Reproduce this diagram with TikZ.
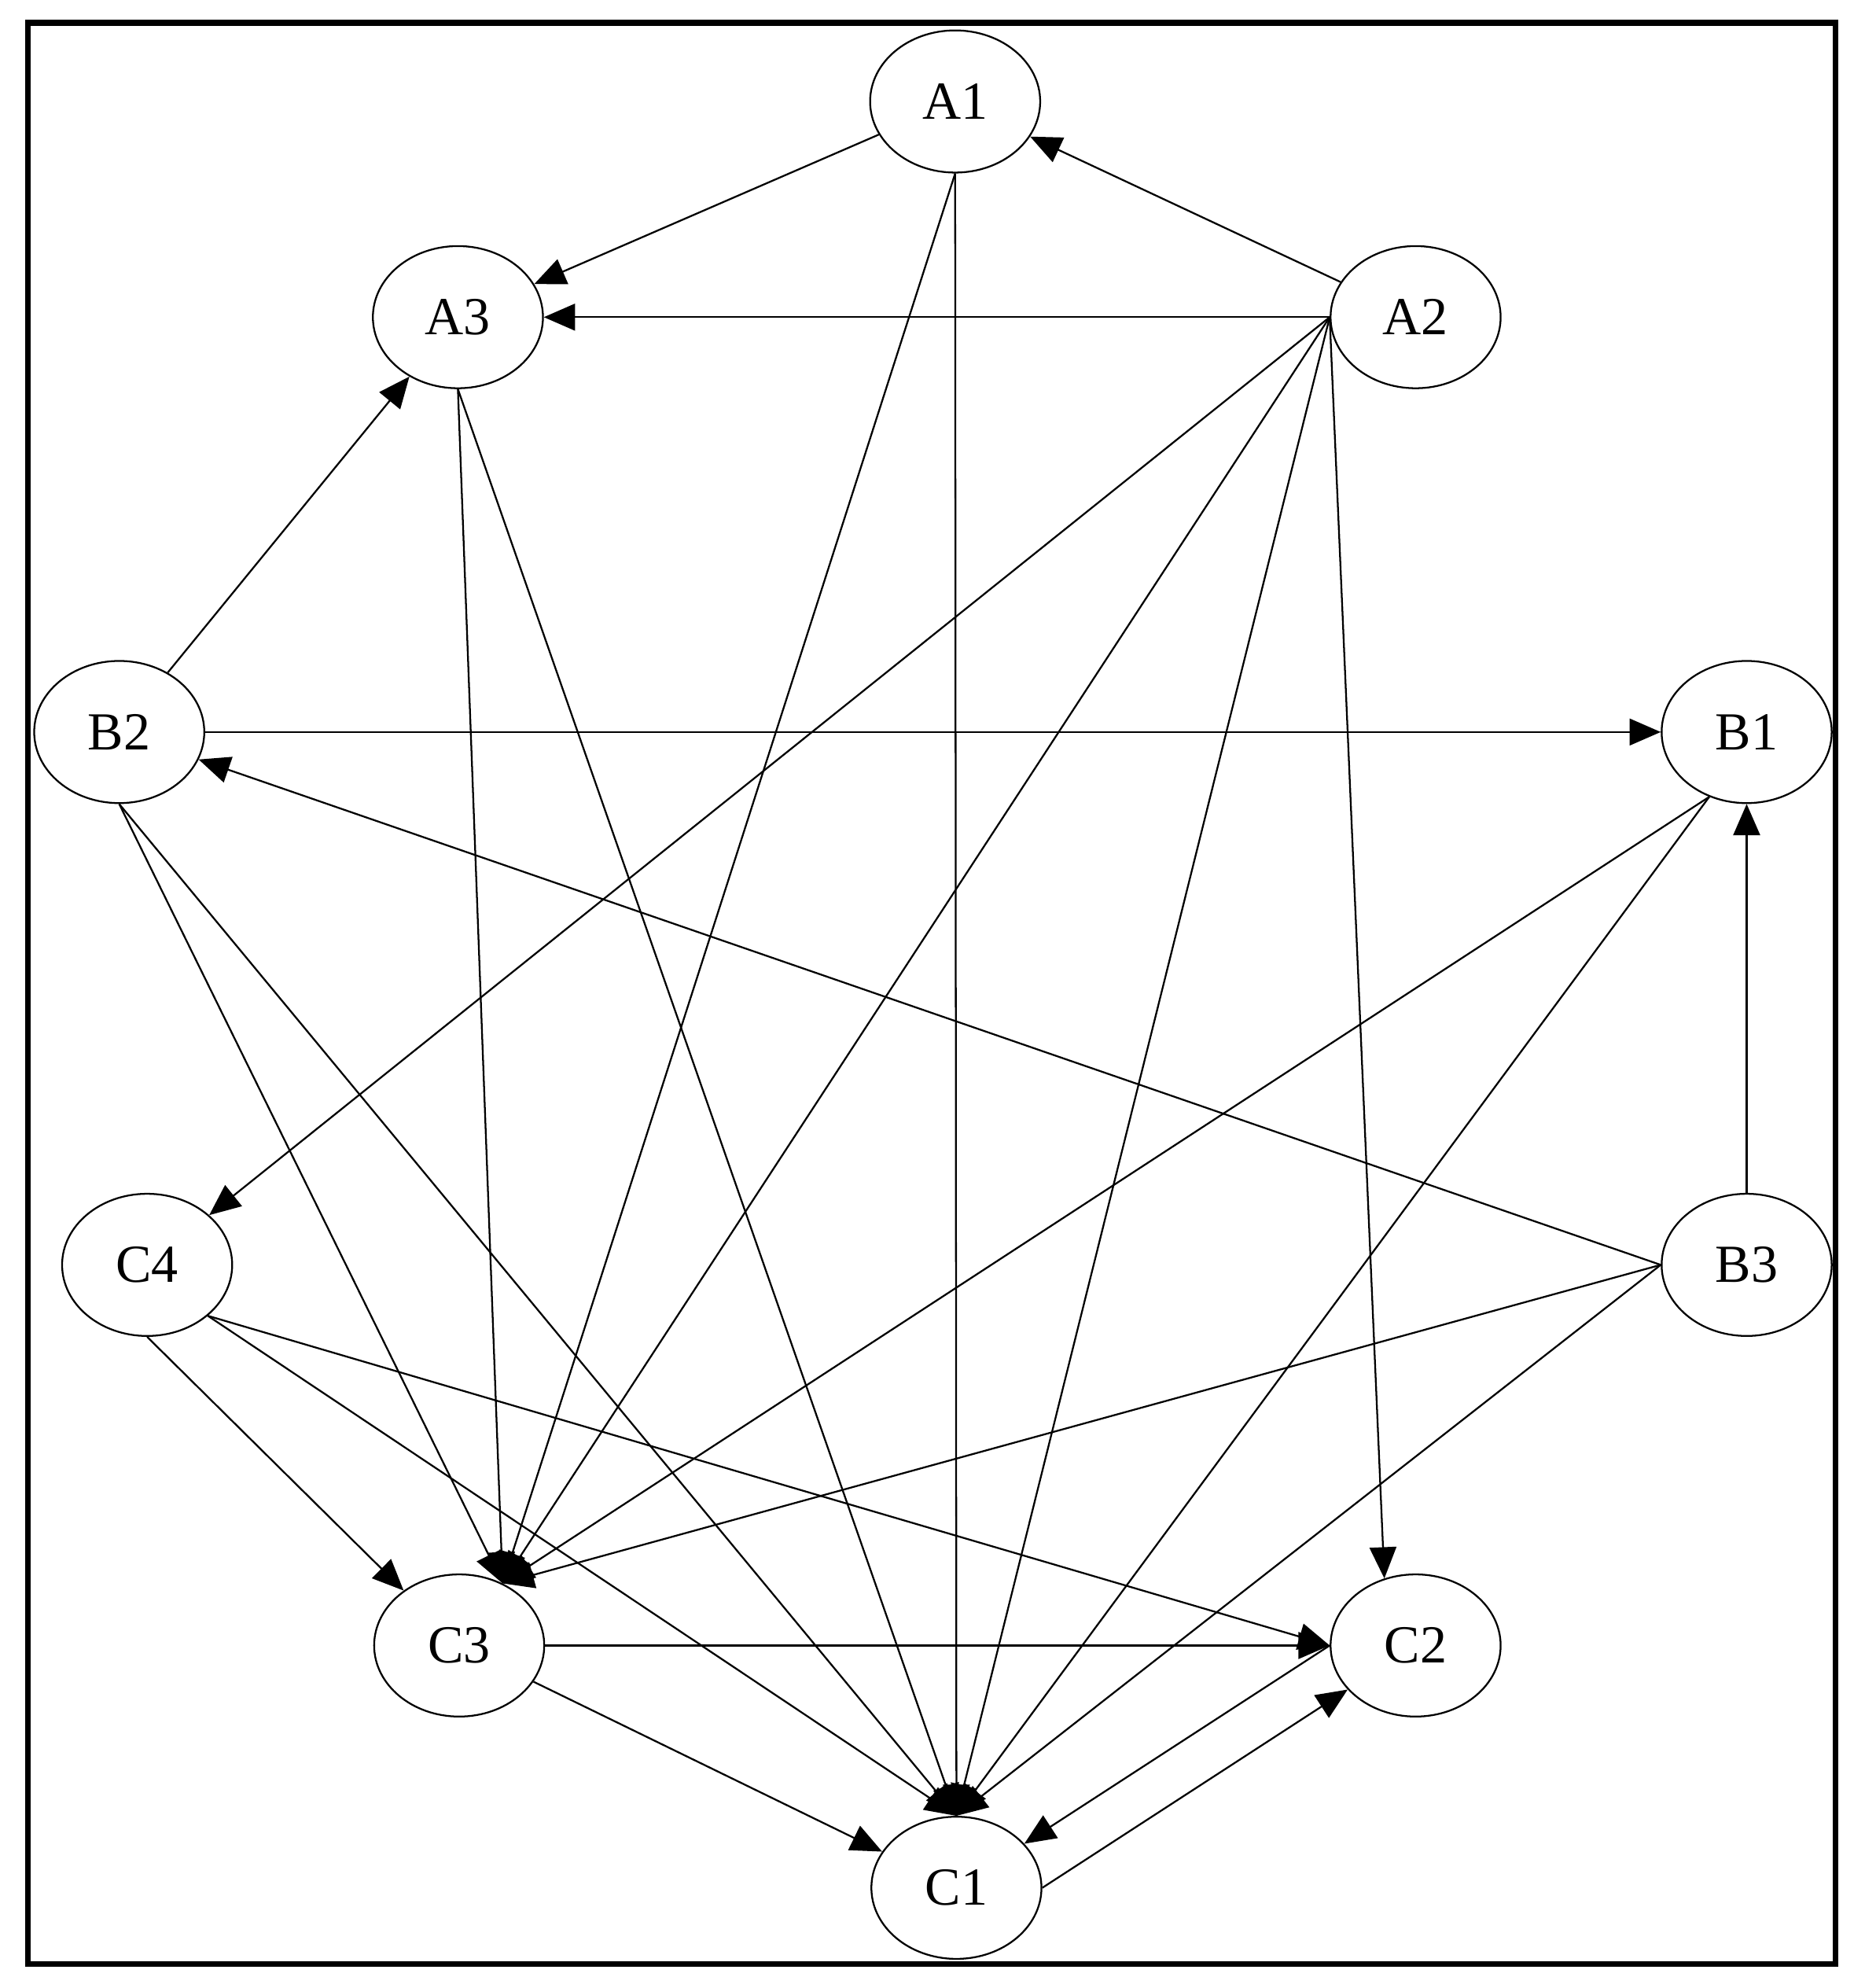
\documentclass[tikz,border=0pt]{standalone}
\usepackage{fontspec}
\setmainfont{Liberation Serif}
\usetikzlibrary{arrows.meta,shapes.geometric}

\begin{document}
\begin{tikzpicture}[x=0.01cm,y=-0.01cm,
    var/.style={ellipse,draw,thin,minimum width=1.34cm,minimum height=1.12cm,inner sep=0pt,font=\fontsize{12}{14}\selectfont},
    link/.style={-{Triangle[length=7pt,width=6pt]},thin}]
  \useasboundingbox (0,0) rectangle (1470,1567);
  \draw[line width=1.3pt] (22,18) rectangle (1447,1548);
  \node[var] (A1) at (753,80) {A1};
  \node[var] (A3) at (361,250) {A3};
  \node[var] (A2) at (1116,250) {A2};
  \node[var] (B2) at (94,577) {B2};
  \node[var] (B1) at (1377,577) {B1};
  \node[var] (C4) at (116,997) {C4};
  \node[var] (B3) at (1377,997) {B3};
  \node[var] (C3) at (362,1297) {C3};
  \node[var] (C2) at (1116,1297) {C2};
  \node[var] (C1) at (754,1488) {C1};
  % fixed ports where the edges meet
  \coordinate (C3in) at (C3.55);
  \coordinate (C1in) at (C1.north);
  \foreach \s/\t in {A1/A3,A2/A1,A2.west/A3,A2.west/C4,A2.west/C3in,A2.west/C1in,
      A2.west/C2.115,A1.south/C3in,A1.south/C1in,A3.south/C3in,A3.south/C1in,
      B2/A3,B2/B1,B3.west/B2,B3/B1,B2.south/C3in,B2.south/C1in,B1.240/C3in,
      B1.240/C1in,B3.west/C3in,B3.west/C1in,C4.south/C3,C4.-40/C1in,C4.-40/C2.west,
      C3/C2.west,C3/C1,C2.west/C1,C1.east/C2}
    \draw[link] (\s) -- (\t);
\end{tikzpicture}
\end{document}
